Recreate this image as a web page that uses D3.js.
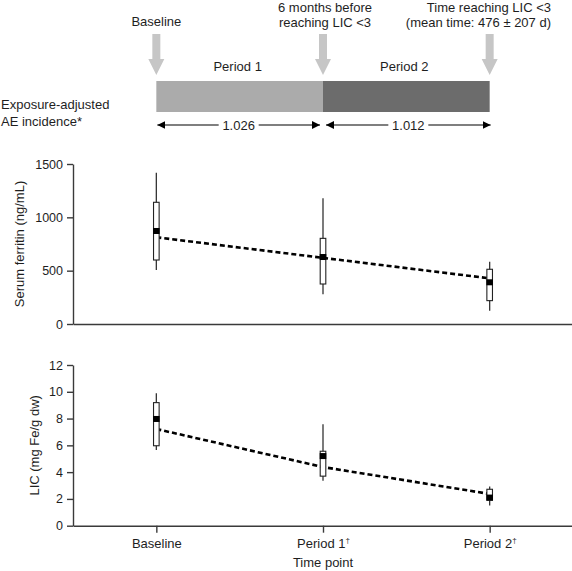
<!DOCTYPE html>
<html>
<head>
<meta charset="utf-8">
<script src="https://cdn.jsdelivr.net/npm/d3@7"></script>
<style>
  html, body { margin: 0; padding: 0; background: #fff; }
  svg { display: block; font-family: "Liberation Sans", Arial, sans-serif; }
</style>
</head>
<body>
<svg id="chart" width="572" height="571"></svg>
<script>
// ---------- data ----------
const categories = ["Baseline", "Period 1", "Period 2"];
const categoryLabels = ["Baseline", "Period 1", "Period 2"];
const categorySup = ["", "\u2020", "\u2020"];

const milestoneLabels = [
  ["Baseline"],
  ["6 months before", "reaching LIC <3"],
  ["Time reaching LIC <3", "(mean time: 476 \u00b1 207 d)"]
];
const periodNames = ["Period 1", "Period 2"];
const aeIncidence = ["1.026", "1.012"];

// Serum ferritin (ng/mL)
const ferritinWhiskerLow = [506, 278, 125];
const ferritinQ1 = [600, 375, 219];
const ferritinMedian = [872, 628, 391];
const ferritinQ3 = [1141, 803, 513];
const ferritinWhiskerHigh = [1418, 1178, 584];
const ferritinMean = [813, 620, 428];
const ferritinTicks = [0, 500, 1000, 1500];

// LIC (mg Fe/g dw)
const licWhiskerLow = [5.65, 3.36, 1.5];
const licQ1 = [5.97, 3.7, 1.9];
const licMedian = [7.97, 5.2, 2.1];
const licQ3 = [9.19, 5.56, 2.72];
const licWhiskerHigh = [9.89, 7.57, 2.93];
const licMean = [7.22, 4.38, 2.37];
const licTicks = [0, 2, 4, 6, 8, 10, 12];

// ---------- setup ----------
const svg = d3.select("#chart");
const ink = "#1e1e1e";
const axisCol = "#3a3a3a";

const x = d3.scalePoint().domain(categories).range([73, 573]).padding(0.5);

// ---------- top timeline banner ----------
const banner = svg.append("g");
const barColors = ["#ababab", "#6c6c6c"];
periodNames.forEach((p, i) => {
  const x0 = x(categories[i]), x1 = x(categories[i + 1]);
  banner.append("rect").attr("x", x0).attr("y", 81).attr("width", x1 - x0).attr("height", 31)
    .attr("fill", barColors[i]);
  banner.append("text").attr("x", (x0 + x1) / 2 - 2).attr("y", 71).attr("text-anchor", "middle")
    .attr("font-size", 13).attr("fill", ink).text(p);
});
categories.forEach(c => {
  const cx = x(c);
  banner.append("path")
    .attr("d", `M${cx - 4},34 L${cx + 4},34 L${cx + 4},59 L${cx + 8},59 L${cx},75 L${cx - 8},59 L${cx - 4},59 Z`)
    .attr("fill", "#c6c6c6");
});
milestoneLabels.forEach((lines, i) => {
  const cx = x(categories[i]);
  const anchor = i === 2 ? "end" : "middle";
  const tx = i === 2 ? 551 : (i === 1 ? cx + 2 : cx);
  const startY = lines.length === 1 ? 26 : 11.5;
  lines.forEach((l, j) => {
    banner.append("text").attr("x", tx).attr("y", startY + j * 15).attr("text-anchor", anchor)
      .attr("font-size", 13).attr("fill", ink).text(l);
  });
});
banner.append("text").attr("x", 1).attr("y", 109).attr("font-size", 13).attr("fill", ink).text("Exposure-adjusted");
banner.append("text").attr("x", 1).attr("y", 126).attr("font-size", 13).attr("fill", ink).text("AE incidence*");
svg.append("defs").append("marker").attr("id", "ah").attr("viewBox", "0 0 10 10")
  .attr("refX", 10).attr("refY", 5).attr("markerWidth", 8).attr("markerHeight", 8)
  .attr("markerUnits", "userSpaceOnUse").attr("orient", "auto-start-reverse")
  .append("path").attr("d", "M0,0 L10,5 L0,10 Z").attr("fill", "#000");
aeIncidence.forEach((v, i) => {
  const xa = i === 0 ? x(categories[i]) + 1 : x(categories[i]) + 3;
  const xb = i === 0 ? x(categories[i + 1]) - 3 : x(categories[i + 1]) + 1;
  banner.append("line").attr("x1", xa).attr("x2", xb).attr("y1", 125).attr("y2", 125)
    .attr("stroke", "#000").attr("stroke-width", 1.2)
    .attr("marker-start", "url(#ah)").attr("marker-end", "url(#ah)");
  const mid = (xa + xb) / 2;
  banner.append("rect").attr("x", mid - 20).attr("y", 117).attr("width", 40).attr("height", 16).attr("fill", "#fff");
  banner.append("text").attr("x", mid).attr("y", 130).attr("text-anchor", "middle")
    .attr("font-size", 13).attr("fill", ink).text(v);
});

// ---------- panel drawing ----------
function panel(opts) {
  const y = d3.scaleLinear().domain(opts.domain).range(opts.range);
  const g = svg.append("g");

  const ya = g.append("g").attr("transform", "translate(73,0)")
    .call(d3.axisLeft(y).tickValues(opts.ticks).tickFormat(d3.format("d"))
      .tickSize(6).tickSizeOuter(0).tickPadding(4));
  ya.select(".domain").attr("stroke", axisCol).attr("stroke-width", 1.4);
  ya.selectAll(".tick line").attr("stroke", axisCol).attr("stroke-width", 1.4);
  ya.selectAll(".tick text").attr("font-size", 12.5).attr("fill", ink)
    .attr("font-family", "Liberation Sans, Arial, sans-serif");

  const xa = g.append("g").attr("transform", `translate(0,${opts.range[0]})`)
    .call(d3.axisBottom(x).tickSize(opts.xTicks ? 7 : 0).tickSizeOuter(0).tickPadding(6));
  xa.select(".domain").attr("stroke", axisCol).attr("stroke-width", 1.4);
  xa.selectAll(".tick line").attr("stroke", axisCol).attr("stroke-width", 1.4);
  if (opts.xTicks) {
    xa.selectAll(".tick text").each(function (d, i) {
      const t = d3.select(this);
      t.text(null).attr("font-size", 13).attr("fill", ink)
        .attr("font-family", "Liberation Sans, Arial, sans-serif");
      t.append("tspan").text(categoryLabels[i]);
      if (categorySup[i]) t.append("tspan").attr("dy", -5).attr("font-size", 8).text(categorySup[i]);
    });
  } else {
    xa.selectAll(".tick text").remove();
  }

  g.append("text")
    .attr("transform", `translate(${opts.titleX},${(opts.range[0] + opts.range[1]) / 2}) rotate(-90)`)
    .attr("text-anchor", "middle").attr("font-size", 13).attr("fill", ink).text(opts.title);

  g.append("path")
    .datum(categories.map((c, i) => [x(c), y(opts.mean[i])]))
    .attr("d", d3.line())
    .attr("fill", "none").attr("stroke", "#000").attr("stroke-width", 2.6)
    .attr("stroke-dasharray", "5,3");

  categories.forEach((c, i) => {
    const cx = x(c);
    g.append("line").attr("x1", cx).attr("x2", cx)
      .attr("y1", y(opts.wLow[i])).attr("y2", y(opts.wHigh[i]))
      .attr("stroke", "#333").attr("stroke-width", 1.3);
    g.append("rect").attr("x", cx - 2.8).attr("width", 5.6)
      .attr("y", y(opts.q3[i])).attr("height", y(opts.q1[i]) - y(opts.q3[i]))
      .attr("fill", "#fff").attr("stroke", "#222").attr("stroke-width", 1.1);
    g.append("rect").attr("x", cx - 3.3).attr("width", 6.6)
      .attr("y", y(opts.median[i]) - 3).attr("height", 6)
      .attr("fill", "#000");
  });
}

panel({
  domain: [0, 1500], range: [324, 164], ticks: ferritinTicks, xTicks: false,
  title: "Serum ferritin (ng/mL)", titleX: 24,
  wLow: ferritinWhiskerLow, q1: ferritinQ1, median: ferritinMedian, q3: ferritinQ3,
  wHigh: ferritinWhiskerHigh, mean: ferritinMean
});
panel({
  domain: [0, 12], range: [525.7, 365], ticks: licTicks, xTicks: true,
  title: "LIC (mg Fe/g dw)", titleX: 38.5,
  wLow: licWhiskerLow, q1: licQ1, median: licMedian, q3: licQ3,
  wHigh: licWhiskerHigh, mean: licMean
});

svg.append("text").attr("x", 323).attr("y", 567).attr("text-anchor", "middle")
  .attr("font-size", 13).attr("fill", ink).text("Time point");
</script>
</body>
</html>
